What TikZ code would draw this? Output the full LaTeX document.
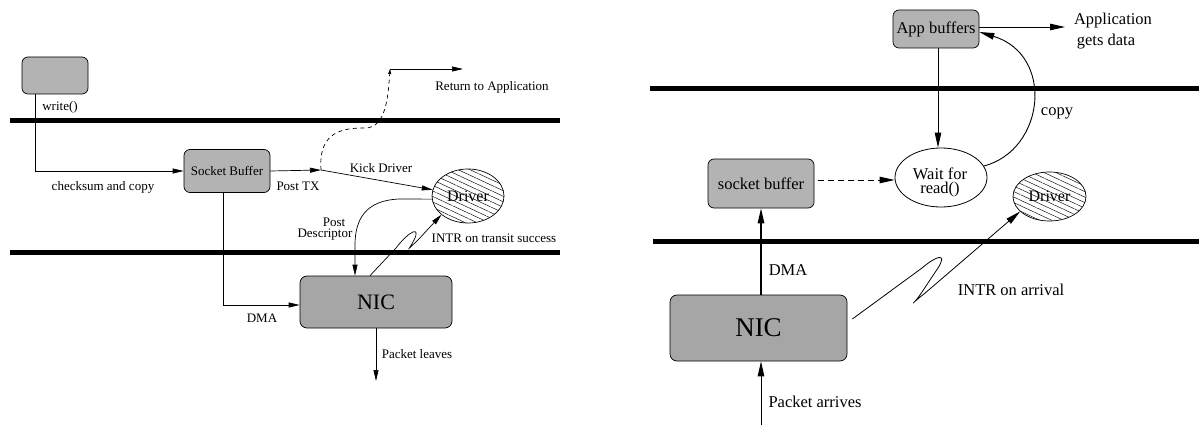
\documentclass[tikz,border=0pt]{standalone}
\usepackage{fontspec}
\setmainfont{Liberation Serif}
\usetikzlibrary{arrows.meta,shapes.geometric,patterns.meta}
\definecolor{boxgray}{RGB}{179,179,179}
\definecolor{nicgray}{RGB}{166,166,166}
\newcommand\fsz[1]{\fontsize{#1}{#1}\selectfont}
\tikzset{
  wall/.style={line width=5pt},
  arrL/.style={line width=0.7pt,-{Triangle[length=11pt,width=5pt]}},
  arrR/.style={line width=0.9pt,-{Triangle[length=15pt,width=6.5pt]}},
  gbox/.style={draw,fill=boxgray,rounded corners=6pt,inner sep=0pt,line width=0.7pt},
  nicbox/.style={draw,fill=nicgray,rounded corners=7pt,inner sep=0pt,line width=0.7pt},
  drvnode/.style={draw,ellipse,inner sep=0pt,line width=0.7pt,
    pattern={Lines[angle=-25,distance=5pt,line width=0.45pt]}},
  txtL/.style={inner sep=0pt,font=\fsz{13}},
  txtR/.style={inner sep=0pt,font=\fsz{16.5}},
}
\begin{document}
\begin{tikzpicture}[x=1pt,y=-1pt]
\useasboundingbox (0,0) rectangle (1199,425);

% ---------------- transmit path ----------------
\draw[wall] (10,120.5) -- (560,120.5);
\draw[wall] (10,252) -- (560,252);

\node[gbox,minimum width=66pt,minimum height=37pt] (app) at (55,75.5) {};
\node[gbox,minimum width=86pt,minimum height=43pt,font=\fsz{13}] (sb) at (227,171) {Socket Buffer};
\node[nicbox,minimum width=152pt,minimum height=52pt,font=\fsz{22}] (nic) at (376,302) {NIC};
\node[drvnode,minimum width=72pt,minimum height=54pt,font=\fsz{16}] (drv) at (468,196) {Driver};

\coordinate (posttx) at (321,170);
\coordinate (ret) at (390,69);
\coordinate (retend) at (463,69);
\coordinate (leave) at (376,381);

\draw[arrL] ([xshift=-20pt]app.south) |- (sb.west);
\draw[arrL] (sb.east) -- (posttx);
\draw[arrL] (posttx) -- (drv.170);
\draw[dash pattern=on 4pt off 3.5pt,line width=0.7pt,-{Triangle[length=5pt,width=3pt]}]
  (posttx) .. controls (318,130) and (345,128) .. (365,128)
           .. controls (385,128) and (388,100) .. (ret);
\draw[arrL] (ret) -- (retend);
\draw[arrL] (drv.185) -- (400,199) .. controls (365,200) and (355,220) .. (355,245)
  -- ([xshift=-21pt]nic.north);
% interrupt line with its squiggle
\draw[arrL] ([xshift=-6pt]nic.north) -- (396,248)
  .. controls (410,230) and (421,226) .. (414,240)
  .. controls (409,250) and (405,252) .. (418,240) -- (drv.215);
\draw[arrL] ([xshift=-4pt]sb.south) |- ([yshift=-3pt]nic.west);
\draw[arrL] (nic.south) -- (leave);

\node[txtL] (twrite) at (60,107) {write()};
\node[txtL] (tcheck) at (103,187) {checksum and copy};
\node[txtL] (tposttx) at (298,186) {Post TX};
\node[txtL] (tret) at (492,87) {Return to Application};
\node[txtL] (tkick) at (381,168) {Kick Driver};
\node[txtL] (tpost) at (334,222) {Post};
\node[txtL] (tdesc) at (325,235) {Descriptor};
\node[txtL] (tintr) at (494,238) {INTR on transit success};
\node[txtL] (tdma) at (262,318) {DMA};
\node[txtL] (tleave) at (417,354) {Packet leaves};

% ---------------- receive path ----------------
\draw[wall] (650,89) -- (1199,89);
\draw[wall] (653,241.5) -- (1199,241.5);

\node[gbox,minimum width=86pt,minimum height=38pt,font=\fsz{16.5}] (appbuf) at (936,29) {App buffers};
\node[gbox,minimum width=106pt,minimum height=49pt,font=\fsz{16.5}] (sockbuf) at (761,183.5) {socket buffer};
\node[nicbox,minimum width=177pt,minimum height=66pt,font=\fsz{27}] (nic2) at (758.5,328) {NIC};
\node[draw,ellipse,inner sep=0pt,line width=0.8pt,minimum width=92pt,minimum height=59pt] (wait) at (941,177.5) {};
\node[drvnode,minimum width=73pt,minimum height=49pt,font=\fsz{16}] (drv2) at (1049.5,196.5) {Driver};

\coordinate (appout) at (1065,27);
\coordinate (pin) at (761,425);

\draw[arrR] ([yshift=2pt]appbuf.east) -- (appout);
\draw[arrR] ([xshift=2pt]appbuf.south) -- ([xshift=2pt]appbuf.south |- wait.north);
\draw[arrR] (wait.15) .. controls (1045,150) and (1055,55) .. ([yshift=-3pt]appbuf.east);
\draw[arrR,dash pattern=on 6pt off 4pt] ([xshift=4pt,yshift=3.5pt]sockbuf.east) -- ([yshift=-2.5pt]wait.west);
\draw[arrR,line width=1.3pt] (sockbuf.south |- nic2.north) -- (sockbuf.south);
\draw[arrR] (pin) -- (pin |- nic2.south);
% interrupt line with its squiggle
\draw[arrR,line width=0.8pt] ([xshift=5pt,yshift=9pt]nic2.east) -- (922,268)
  .. controls (936,256) and (948,252) .. (938,268) -- (922,292)
  .. controls (912,307) and (908,306) .. (924,294) -- (drv2.207);

\node[txtR] (tapp) at (1113,21) {Application};
\node[txtR] (tgets) at (1106,42) {gets data};
\node[txtR] (tcopy) at (1057,113) {copy};
\node[txtR] (twait1) at (940,174) {Wait for};
\node[txtR] (twait2) at (940,190) {read()};
\node[txtR] (tdma2) at (788,270) {DMA};
\node[txtR] (tarr) at (815,402) {Packet arrives};
\node[txtR] (tintr2) at (1011,290) {INTR on arrival};
\end{tikzpicture}
\end{document}
